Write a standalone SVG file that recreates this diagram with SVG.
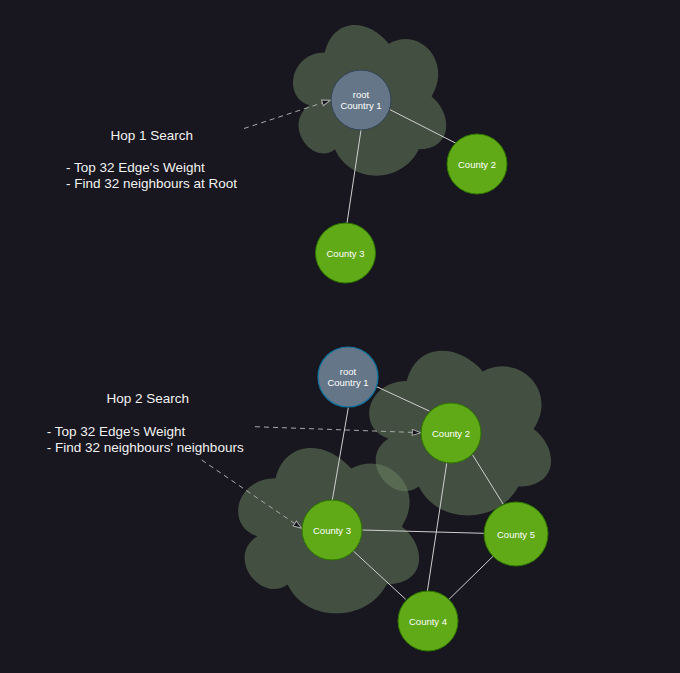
<svg xmlns="http://www.w3.org/2000/svg" xmlns:xlink="http://www.w3.org/1999/xlink" width="680" height="673" viewBox="0 0 680 673">
<style>
.cloud{fill:#6d8764;opacity:0.5;stroke:none}
.edge{stroke:#cfcfcf;stroke-width:1;fill:none}
.dash{stroke:#a9a9a9;stroke-width:1;fill:none;stroke-dasharray:5 4;marker-end:url(#open)}
.green{fill:#60a917;stroke:#2d7600;stroke-width:1}
.root{fill:#647687;stroke:#314354;stroke-width:1}
.root2{fill:#647687;stroke:#10739e;stroke-width:1.2}
.lbl{font-family:"Liberation Sans",Arial,sans-serif;font-size:9.5px;fill:#ffffff;text-anchor:middle}
.note{font-family:"Liberation Sans",Arial,sans-serif;font-size:13.5px;fill:#f2f2f2}
</style>
<defs>
<path id="cloud" d="M25,25 C5,25 0,50 16,55 C0,66 18,90 31,80 C40,100 70,100 80,80 C100,80 100,60 87.5,50 C100,30 80,10 62.5,20 C50,5 30,5 25,25 Z"/>
<marker id="open" markerUnits="userSpaceOnUse" markerWidth="10" markerHeight="8" refX="8.5" refY="3" orient="auto" overflow="visible">
<path d="M0,0 L8.5,3 L0,6 Z" fill="#18161e" stroke="#a9a9a9" stroke-width="1"/>
</marker>
</defs>
<rect x="0" y="0" width="680" height="673" fill="#18161e"/>

<g id="clouds">
<use xlink:href="#cloud" href="#cloud" class="cloud" transform="translate(282,8.5) scale(1.71,1.76)"/>
<use xlink:href="#cloud" href="#cloud" class="cloud" transform="translate(356,333) scale(2.03,1.92)"/>
<use xlink:href="#cloud" href="#cloud" class="cloud" transform="translate(225,430) scale(2.02,1.93)"/>
</g>

<g id="labels">
<text class="note" x="151.7" y="140.4" text-anchor="middle">Hop 1 Search</text>
<text class="note" x="66" y="172.4">- Top 32 Edge's Weight</text>
<text class="note" x="66" y="188.4">- Find 32 neighbours at Root</text>
<text class="note" x="147.8" y="403" text-anchor="middle">Hop 2 Search</text>
<text class="note" x="46.7" y="435.7">- Top 32 Edge's Weight</text>
<text class="note" x="46.7" y="451.5">- Find 32 neighbours' neighbours</text>
</g>

<g id="connectors">
<line class="edge" x1="389.3" y1="109.3" x2="456" y2="143.3"/>
<line class="edge" x1="361" y1="130" x2="347" y2="223"/>
<line class="edge" x1="376.7" y1="386.7" x2="429.3" y2="411"/>
<line class="edge" x1="348.3" y1="407.7" x2="332.3" y2="500"/>
<line class="edge" x1="446.7" y1="463.3" x2="427.3" y2="591.7"/>
<line class="edge" x1="472.7" y1="455" x2="503.3" y2="504.3"/>
<line class="edge" x1="362.3" y1="530" x2="484" y2="533.3"/>
<line class="edge" x1="353.3" y1="551" x2="405.7" y2="599.3"/>
<line class="edge" x1="449" y1="599.3" x2="493.3" y2="556"/>
<line class="dash" x1="244" y1="128.5" x2="330.5" y2="100.2"/>
<line class="dash" x1="255" y1="426.7" x2="420.8" y2="432.7"/>
<line class="dash" x1="201.7" y1="460" x2="301.7" y2="528.3"/>
</g>

<g id="n-root1">
<circle class="root" cx="361" cy="100" r="30"/>
<text class="lbl" x="361" y="97.6">root</text>
<text class="lbl" x="361" y="109.3">Country 1</text>
</g>
<g id="n-county2a">
<circle class="green" cx="477" cy="164" r="30"/>
<text class="lbl" x="477" y="167.5">County 2</text>
</g>
<g id="n-county3a">
<circle class="green" cx="345.5" cy="253" r="30"/>
<text class="lbl" x="345.5" y="256.5">County 3</text>
</g>
<g id="n-root2">
<circle class="root2" cx="348" cy="377" r="30"/>
<text class="lbl" x="348" y="374.6">root</text>
<text class="lbl" x="348" y="386.3">Country 1</text>
</g>
<g id="n-county2b">
<circle class="green" cx="451" cy="433" r="30"/>
<text class="lbl" x="451" y="436.5">County 2</text>
</g>
<g id="n-county3b">
<circle class="green" cx="332" cy="530" r="30"/>
<text class="lbl" x="332" y="533.5">County 3</text>
</g>
<g id="n-county5">
<circle class="green" cx="516" cy="534" r="32"/>
<text class="lbl" x="516" y="537.5">County 5</text>
</g>
<g id="n-county4">
<circle class="green" cx="428" cy="621" r="30"/>
<text class="lbl" x="428" y="624.5">County 4</text>
</g>
</svg>
